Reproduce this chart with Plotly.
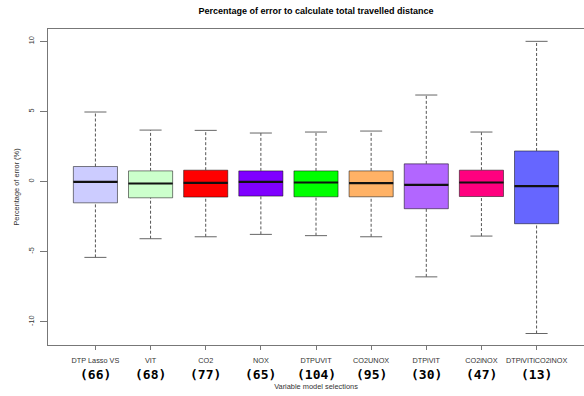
import plotly.graph_objects as go

categories = ["DTP Lasso VS", "VIT", "CO2", "NOX", "DTPUVIT", "CO2UNOX", "DTPiVIT", "CO2iNOX", "DTPiVITiCO2iNOX"]
counts = ["(66)", "(68)", "(77)", "(65)", "(104)", "(95)", "(30)", "(47)", "(13)"]
whisk_low = [-5.41, -4.08, -3.94, -3.77, -3.86, -3.94, -6.80, -3.89, -10.84]
q1 = [-1.52, -1.16, -1.11, -1.04, -1.09, -1.09, -1.94, -1.07, -3.01]
median = [-0.02, -0.14, -0.09, -0.02, -0.07, -0.12, -0.24, -0.07, -0.33]
q3 = [1.07, 0.76, 0.81, 0.76, 0.76, 0.76, 1.26, 0.81, 2.18]
whisk_high = [4.96, 3.67, 3.65, 3.46, 3.53, 3.60, 6.17, 3.53, 10.00]
colors = ["#CCCCFF", "#CCFFCC", "#FF0000", "#7F00FF", "#00FF00", "#FFB266", "#B266FF", "#FF007F", "#6666FF"]
y_ticks = [-10, -5, 0, 5, 10]

pos = list(range(1, len(categories) + 1))
BOXW = 0.8
CAPW = 0.4

fig = go.Figure()

# dashed whiskers
wx, wy = [], []
for p, lo, a, b, hi in zip(pos, whisk_low, q1, q3, whisk_high):
    wx += [p, p, None, p, p, None]
    wy += [lo, a, None, b, hi, None]
fig.add_trace(go.Scatter(x=wx, y=wy, mode="lines", line=dict(color="#555555", width=1, dash="3px,2px"),
                         hoverinfo="skip", showlegend=False))
# caps
cx, cy = [], []
for p, lo, hi in zip(pos, whisk_low, whisk_high):
    cx += [p - CAPW / 2, p + CAPW / 2, None, p - CAPW / 2, p + CAPW / 2, None]
    cy += [lo, lo, None, hi, hi, None]
fig.add_trace(go.Scatter(x=cx, y=cy, mode="lines", line=dict(color="#666666", width=1),
                         hoverinfo="skip", showlegend=False))

# boxes
for p, a, m, b, c, name in zip(pos, q1, median, q3, colors, categories):
    fig.add_trace(go.Box(x=[p], q1=[a], median=[m], q3=[b], lowerfence=[a], upperfence=[b],
                         width=BOXW, fillcolor=c, line=dict(color="rgba(0,0,0,0.5)", width=1),
                         whiskerwidth=0, name=name, showlegend=False, boxpoints=False))

# medians
mx, my = [], []
for p, m in zip(pos, median):
    mx += [p - BOXW / 2, p + BOXW / 2, None]
    my += [m, m, None]
fig.add_trace(go.Scatter(x=mx, y=my, mode="lines", line=dict(color="#111111", width=2.2),
                         hoverinfo="skip", showlegend=False))

# counts under category names
for p, c in zip(pos, counts):
    fig.add_annotation(x=p, y=0, xref="x", yref="paper", yanchor="middle", yshift=-29,
                       text="<b>" + c + "</b>", showarrow=False,
                       font=dict(family="DejaVu Sans Mono", size=13, color="#000000"))

fig.update_layout(
    width=584, height=396,
    margin=dict(l=48, r=0, t=29, b=51, autoexpand=False),
    paper_bgcolor="white", plot_bgcolor="white",
    title=dict(text="<b>Percentage of error to calculate total travelled distance</b>",
               x=(48 + 584) / 2 / 584, xanchor="center", y=1 - 11 / 396, yanchor="middle",
               font=dict(family="Liberation Sans", size=9, color="#000000")),
    font=dict(family="Liberation Sans", size=7.4, color="#333333"),
)

fig.update_xaxes(range=[0.14, 9.86], tickvals=pos, ticktext=categories, tickangle=0, automargin=False,
                 ticks="outside", ticklen=4, ticklabelstandoff=4,
                 tickcolor="#777777", showline=True, linecolor="#777777", mirror=True, showgrid=False,
                 zeroline=False, tickfont=dict(family="Liberation Sans", size=7.3, color="#333333"),
                 title=dict(text="Variable model selections", standoff=20,
                            font=dict(size=7.4, color="#333333")))
fig.update_yaxes(range=[-11.66, 10.88], tickvals=y_ticks, ticktext=[str(v) for v in y_ticks], tickangle=-90,
                 automargin=False,
                 ticks="outside", ticklen=7, tickcolor="#777777", showline=True, linecolor="#777777",
                 mirror=False, showgrid=False, zeroline=False, tickfont=dict(size=7.4, color="#333333"),
                 ticklabelstandoff=3,
                 title=dict(text="Percentage of error (%)", standoff=6, font=dict(size=7.4, color="#333333")))

fig.write_html("out.html", config={"displayModeBar": False},
               post_script="document.body.style.margin='0';")
